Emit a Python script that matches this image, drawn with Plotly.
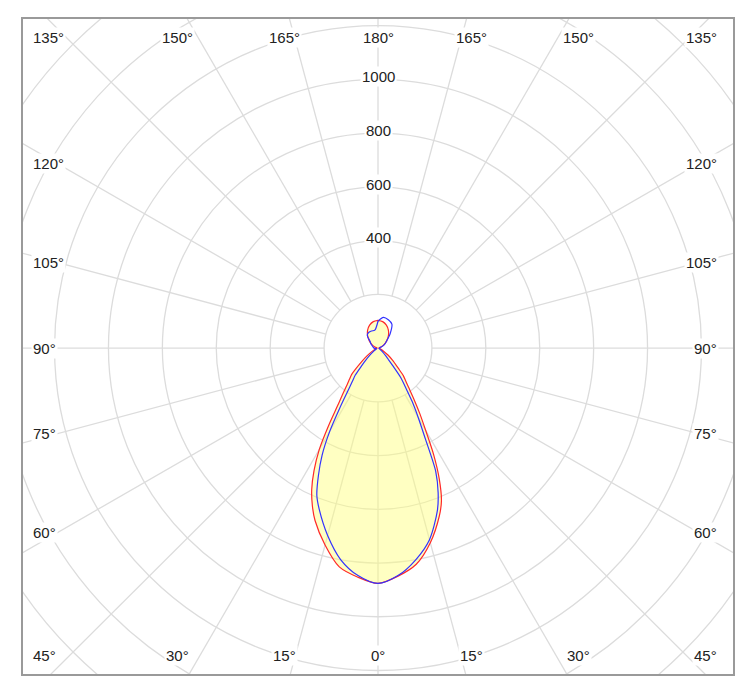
import numpy as np
import plotly.graph_objects as go

# ---------------- data (luminous intensity, cd) ----------------
gamma = [0, 5, 10, 15, 20, 22.5, 25, 27.5, 30, 32.5, 35, 37.5, 40, 42.5, 45,
         50, 55, 60, 70, 80, 90, 100, 110, 120, 130, 140, 150, 160, 170, 180]

# red plane, right half (C0) and left half (C180)
c0 = [876, 852, 817, 750, 665, 615, 538, 447, 354, 288, 233, 190, 160, 139, 107,
      70, 45, 25, 10, 5, 3, 4, 12, 26, 42, 60, 77, 91, 100, 103]
c180 = [876, 856, 827, 759, 683, 636, 582, 514, 436, 340, 261, 214, 179, 156, 138,
        82, 50, 28, 10, 5, 3, 4, 12, 26, 42, 60, 77, 91, 100, 103]
# blue plane, right half (C90) and left half (C270)
c90 = [876, 850, 801, 738, 644, 583, 507, 380, 299, 236, 177, 140, 85, 55, 40,
       22, 12, 8, 5, 4, 5, 6, 14, 28, 42, 70, 103, 112, 116, 100]
c270 = [876, 850, 799, 722, 638, 593, 523, 449, 359, 263, 196, 156, 131, 91, 68,
        35, 18, 10, 6, 8, 15, 18, 22, 30, 38, 62, 68, 68, 68, 100]

radial_labels = [400, 600, 800, 1000]
grid_radii = [200, 400, 600, 800, 1000, 1200, 1400, 1600, 1800]
angle_labels = [0, 15, 30, 45, 60, 75, 90, 105, 120, 135, 150, 165, 180]

# ---------------- helpers ----------------
def closed_curve(right, left):
    g = np.radians(gamma)
    r = np.asarray(right, float)
    l = np.asarray(left, float)
    xr, yr = r * np.sin(g), -r * np.cos(g)
    xl, yl = -l * np.sin(g), -l * np.cos(g)
    x = np.concatenate([xr, xl[::-1]])
    y = np.concatenate([yr, yl[::-1]])
    return x, y

FONT = dict(family="Arial, Liberation Sans, sans-serif", size=15, color="#222222")
GRID = "#dcdcdc"

fig = go.Figure()

xr_, yr_ = closed_curve(c0, c180)
xb_, yb_ = closed_curve(c90, c270)
fig.add_trace(go.Scatter(x=xr_, y=yr_, mode="lines", fill="toself",
                         fillcolor="rgba(255,255,120,0.45)",
                         line=dict(width=0, shape="spline", smoothing=0.8),
                         hoverinfo="skip", showlegend=False))
fig.add_trace(go.Scatter(x=xr_, y=yr_, mode="lines",
                         line=dict(color="rgb(255,40,40)", width=1.2,
                                   shape="spline", smoothing=0.8),
                         showlegend=False, name="C0-C180"))
fig.add_trace(go.Scatter(x=xb_, y=yb_, mode="lines",
                         line=dict(color="rgb(50,50,255)", width=1.2,
                                   shape="spline", smoothing=0.8),
                         showlegend=False, name="C90-C270"))

shapes = []
for r in grid_radii:
    shapes.append(dict(type="circle", xref="x", yref="y", x0=-r, x1=r, y0=-r, y1=r,
                       line=dict(color=GRID, width=1.3), layer="below"))
r_in, r_out = grid_radii[0], 2200
for a in range(0, 360, 15):
    t = np.radians(a)
    shapes.append(dict(type="line", xref="x", yref="y",
                       x0=r_in * np.sin(t), y0=-r_in * np.cos(t),
                       x1=r_out * np.sin(t), y1=-r_out * np.cos(t),
                       line=dict(color=GRID, width=1.3), layer="below"))

annotations = []
for v in radial_labels:
    annotations.append(dict(x=0, y=v + 10, xref="x", yref="y", text=str(v), showarrow=False,
                            xanchor="center", yanchor="middle", font=FONT,
                            bgcolor="white", borderpad=1))

Y_TOP, Y_BOT = 1158, -1143
X_LEFT, X_RIGHT = -1287, 1265
K_ROW, K_COL = 1291, 1187
for g in angle_labels:
    txt = f"{g}°"
    for side in ([1] if g in (0, 180) else [-1, 1]):
        if g in (45, 135):
            x = X_LEFT if side < 0 else X_RIGHT
            y = Y_BOT if g == 45 else Y_TOP
            xa = "left" if side < 0 else "right"
        elif g < 45:
            x = side * K_ROW * np.tan(np.radians(g)); y = Y_BOT; xa = "center"
        elif g > 135:
            x = side * K_ROW * np.tan(np.radians(180 - g)); y = Y_TOP; xa = "center"
        else:
            x = X_LEFT if side < 0 else X_RIGHT
            y = K_COL * np.tan(np.radians(g - 90))
            xa = "left" if side < 0 else "right"
        annotations.append(dict(x=x, y=y, xref="x", yref="y", text=txt, showarrow=False,
                                xanchor=xa, yanchor="middle", font=FONT,
                                bgcolor="white", borderpad=1))

# page body has an 8px margin: figure is sized/offset to compensate
fig.update_layout(
    width=740, height=681,
    margin=dict(l=15, r=15, t=9, b=15),
    paper_bgcolor="white", plot_bgcolor="white",
    shapes=shapes, annotations=annotations,
    xaxis=dict(range=[-1317, 1317], showgrid=False, zeroline=False, showticklabels=False,
               ticks="", showline=True, mirror=True, linecolor="#9a9a9a", linewidth=2,
               fixedrange=True),
    yaxis=dict(range=[-1213, 1225], showgrid=False, zeroline=False, showticklabels=False,
               ticks="", showline=True, mirror=True, linecolor="#9a9a9a", linewidth=2,
               fixedrange=True),
)

fig.write_html("out.html")
